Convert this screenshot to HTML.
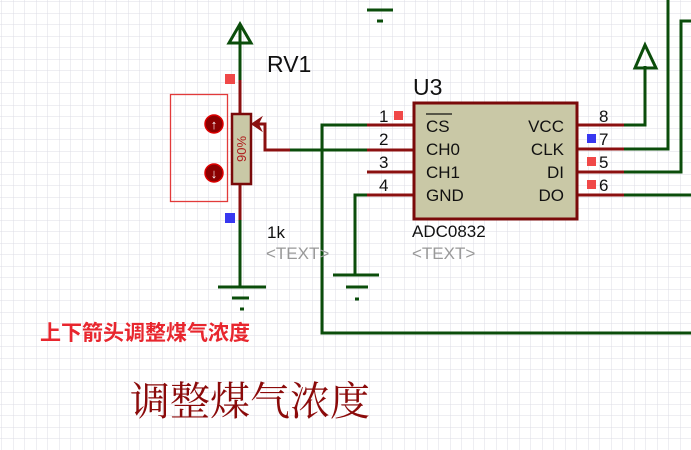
<!DOCTYPE html>
<html><head><meta charset="utf-8"><style>
html,body{margin:0;padding:0;background:#fff;}
svg{display:block;}
text{font-family:"Liberation Sans","Noto Sans CJK SC",sans-serif;}
</style></head><body>
<svg width="691" height="450" viewBox="0 0 691 450" xmlns="http://www.w3.org/2000/svg">
<defs>
<pattern id="g" width="11.5" height="11.5" patternUnits="userSpaceOnUse" x="2" y="2">
<path d="M11.5 0V11.5M0 11.5H11.5" stroke="#dcdce6" stroke-width="1" fill="none"/>
</pattern>
</defs>
<rect width="691" height="450" fill="#fff"/>
<rect width="691" height="450" fill="url(#g)"/>
<g stroke="#0b4d0b" stroke-width="3" fill="none">
<line x1="367" y1="10" x2="393" y2="10"/><line x1="377" y1="21" x2="383" y2="21"/>
<line x1="240" y1="25" x2="240" y2="80"/>
<path d="M240 24 L229 43 L251 43 Z" stroke-linejoin="miter"/>
<line x1="240" y1="220" x2="240" y2="287"/>
<line x1="218" y1="287" x2="266" y2="287"/>
<line x1="232" y1="298" x2="249" y2="298"/>
<line x1="240" y1="309" x2="244" y2="309"/>
<line x1="290" y1="150" x2="367" y2="150"/>
<polyline points="367,125 322,125 322,333 691,333"/>
<polyline points="367,195 355,195 355,275"/>
<line x1="333" y1="275" x2="379" y2="275"/>
<line x1="346" y1="287" x2="368" y2="287"/>
<line x1="355" y1="299" x2="359" y2="299"/>
<polyline points="624,125 645,125 645,66"/>
<path d="M645 45 L635 68 L656 68 Z"/>
<polyline points="624,149 668,149 668,0"/>
<polyline points="624,172 681,172 681,21 691,21"/>
<line x1="624" y1="195" x2="691" y2="195"/>
</g>
<g stroke="#8b1010" stroke-width="3" fill="none">
<line x1="240" y1="80" x2="240" y2="114"/>
<line x1="240" y1="184" x2="240" y2="220"/>
<polyline points="290,150 265,150 265,124 254,124"/>
<line x1="367" y1="125" x2="413" y2="125"/>
<line x1="367" y1="150" x2="413" y2="150"/>
<line x1="367" y1="172" x2="413" y2="172"/>
<line x1="367" y1="195" x2="413" y2="195"/>
<line x1="577" y1="125" x2="624" y2="125"/>
<line x1="577" y1="149" x2="624" y2="149"/>
<line x1="577" y1="172" x2="624" y2="172"/>
<line x1="577" y1="195" x2="624" y2="195"/>
</g>
<path d="M252 124 L261 118 L258 124 L261 130 Z" fill="#8b1010" stroke="#8b1010" stroke-width="1.5"/>
<rect x="232" y="114" width="19" height="70" fill="#c9c8a6" stroke="#7a0a0a" stroke-width="2.5"/>
<text x="0" y="0" font-size="13" fill="#b02020" text-anchor="middle" transform="translate(246,149) rotate(-90)">90%</text>
<rect x="170.5" y="94.5" width="57" height="107" fill="none" stroke="#e23a3a" stroke-width="1.3"/>
<circle cx="214" cy="124" r="9" fill="#8b0000" stroke="#d00" stroke-width="1.5"/>
<text x="214" y="129" font-size="13" fill="#fff" text-anchor="middle" font-weight="bold">↑</text>
<circle cx="214" cy="173" r="9" fill="#8b0000" stroke="#d00" stroke-width="1.5"/>
<text x="214" y="178" font-size="13" fill="#fff" text-anchor="middle" font-weight="bold">↓</text>
<rect x="225" y="74" width="10" height="10" fill="#f04848"/>
<rect x="225" y="213" width="10" height="10" fill="#3838f0"/>
<text x="267" y="72" font-size="23" fill="#111">RV1</text>
<text x="267" y="238" font-size="17" fill="#111">1k</text>
<text x="266" y="259" font-size="17" fill="#999">&lt;TEXT&gt;</text>
<rect x="414" y="103" width="163" height="116" fill="#c9c8a6" stroke="#7a0a0a" stroke-width="3"/>
<text x="413" y="95" font-size="23" fill="#111">U3</text>
<g font-size="17" fill="#111">
<text x="426" y="132">CS</text>
<line x1="426" y1="114" x2="452" y2="114" stroke="#111" stroke-width="1.3"/>
<text x="426" y="155">CH0</text>
<text x="426" y="178">CH1</text>
<text x="426" y="201">GND</text>
<text x="564" y="132" text-anchor="end">VCC</text>
<text x="564" y="155" text-anchor="end">CLK</text>
<text x="564" y="178" text-anchor="end">DI</text>
<text x="564" y="201" text-anchor="end">DO</text>
<text x="379" y="122">1</text><text x="379" y="145">2</text><text x="379" y="168">3</text><text x="379" y="191">4</text>
<text x="599" y="122">8</text><text x="599" y="145">7</text><text x="599" y="168">5</text><text x="599" y="191">6</text>
</g>
<rect x="394" y="111" width="9" height="9" fill="#f04848"/>
<rect x="587" y="134" width="9" height="9" fill="#3838f0"/>
<rect x="587" y="157" width="9" height="9" fill="#f04848"/>
<rect x="587" y="180" width="9" height="9" fill="#f04848"/>
<text x="412" y="237" font-size="17" fill="#111">ADC0832</text>
<text x="412" y="259" font-size="17" fill="#999">&lt;TEXT&gt;</text>
<text x="40" y="340" font-size="21" font-weight="bold" fill="#e8262e" style="font-family:'Liberation Sans','Noto Sans CJK SC',sans-serif">上下箭头调整煤气浓度</text>
<text x="130" y="415" font-size="40" fill="#8b0a0a" style="font-family:'Liberation Serif','Noto Serif CJK SC',serif">调整煤气浓度</text>
</svg>
</body></html>
